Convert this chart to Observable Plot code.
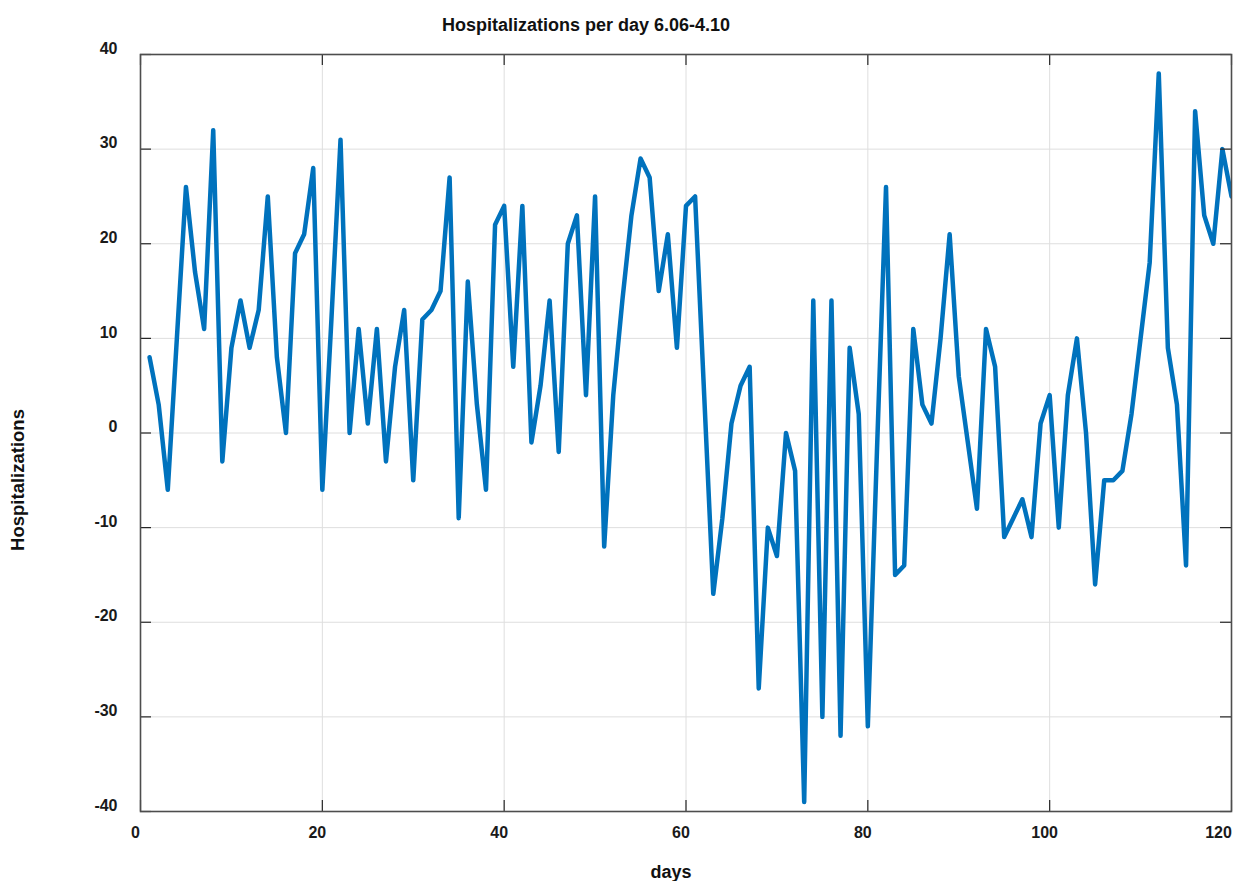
<!DOCTYPE html>
<html>
<head>
<meta charset="utf-8">
<script src="https://cdn.jsdelivr.net/npm/d3@7"></script>
<script src="https://cdn.jsdelivr.net/npm/@observablehq/plot@0.6"></script>
<style>
  body { margin: 0; background: #fff; }
  svg { display: block; }
</style>
</head>
<body>
<div id="chart"></div>
<script>
const title = "Hospitalizations per day 6.06-4.10";
const xLabel = "days";
const yLabel = "Hospitalizations";

const days = [
  1, 2, 3, 4, 5, 6, 7, 8, 9, 10, 11, 12, 13, 14, 15, 16, 17, 18, 19, 20,
  21, 22, 23, 24, 25, 26, 27, 28, 29, 30, 31, 32, 33, 34, 35, 36, 37, 38, 39, 40,
  41, 42, 43, 44, 45, 46, 47, 48, 49, 50, 51, 52, 53, 54, 55, 56, 57, 58, 59, 60,
  61, 62, 63, 64, 65, 66, 67, 68, 69, 70, 71, 72, 73, 74, 75, 76, 77, 78, 79, 80,
  81, 82, 83, 84, 85, 86, 87, 88, 89, 90, 91, 92, 93, 94, 95, 96, 97, 98, 99, 100,
  101, 102, 103, 104, 105, 106, 107, 108, 109, 110, 111, 112, 113, 114, 115, 116, 117, 118, 119, 120
];

const hospitalizations = [
  8, 3, -6, 10, 26, 17, 11, 32, -3, 9, 14, 9, 13, 25, 8, 0, 19, 21, 28, -6,
  12, 31, 0, 11, 1, 11, -3, 7, 13, -5, 12, 13, 15, 27, -9, 16, 3, -6, 22, 24,
  7, 24, -1, 5, 14, -2, 20, 23, 4, 25, -12, 4, 14, 23, 29, 27, 15, 21, 9, 24,
  25, 4, -17, -9, 1, 5, 7, -27, -10, -13, 0, -4, -39, 14, -30, 14, -32, 9, 2, -31,
  -2, 26, -15, -14, 11, 3, 1, 10, 21, 6, -1, -8, 11, 7, -11, -9, -7, -11, 1, 4,
  -10, 4, 10, 0, -16, -5, -5, -4, 2, 10, 18, 38, 9, 3, -14, 34, 23, 20, 30, 25
];

const xTicks = [0, 20, 40, 60, 80, 100, 120];
const xTicksInner = [0, 20, 40, 60, 80, 100];
const xTicksEdge = [120];
const yTicks = [-40, -30, -20, -10, 0, 10, 20, 30, 40];

const data = days.map((d, i) => ({day: d, value: hospitalizations[i]}));

const W = 1235, H = 881;
const mL = 140, mR = 4, mT = 54, mB = 70;
const plotW = W - mL - mR;
const plotH = H - mT - mB;
const tickLen = 11;
const font = "'Liberation Sans', Arial, Helvetica, sans-serif";
const fmt = d => String(d);

const chart = Plot.plot({
  width: W,
  height: H,
  marginLeft: mL,
  marginRight: mR,
  marginTop: mT,
  marginBottom: mB,
  style: {fontFamily: font, fontWeight: "bold", background: "#fff", color: "#1a1a1a"},
  x: {domain: [0, 120], ticks: xTicks},
  y: {domain: [-40, 40], ticks: yTicks},
  marks: [
    Plot.gridX(xTicks, {stroke: "#dedede", strokeOpacity: 1, strokeWidth: 1}),
    Plot.gridY(yTicks, {stroke: "#dedede", strokeOpacity: 1, strokeWidth: 1}),
    Plot.line(data, {x: "day", y: "value", stroke: "#0072BD", strokeWidth: 4.5, strokeLinejoin: "round", strokeLinecap: "round", clip: true}),
    Plot.tickX(xTicks, {x: d => d, insetTop: plotH - tickLen, stroke: "#262626", strokeWidth: 1.2}),
    Plot.tickX(xTicks, {x: d => d, insetBottom: plotH - tickLen, stroke: "#262626", strokeWidth: 1.2}),
    Plot.tickY(yTicks, {y: d => d, insetLeft: plotW - tickLen, stroke: "#262626", strokeWidth: 1.2}),
    Plot.tickY(yTicks, {y: d => d, insetRight: plotW - tickLen, stroke: "#262626", strokeWidth: 1.2}),
    Plot.frame({stroke: "#4d4d4d", strokeWidth: 1.6}),
    Plot.axisX(xTicksInner, {tickSize: 0, tickPadding: 15, fontSize: 16, dx: -5, label: null, tickFormat: fmt, fontWeight: "bold"}),
    Plot.axisX(xTicksEdge, {tickSize: 0, tickPadding: 15, fontSize: 16, dx: -13, label: null, tickFormat: fmt, fontWeight: "bold"}),
    Plot.axisY(yTicks, {tickSize: 0, tickPadding: 23, fontSize: 16, dy: -6, label: null, tickFormat: fmt, fontWeight: "bold"}),
    Plot.text([title], {text: d => d, frameAnchor: "top", lineAnchor: "middle", textAnchor: "middle", dx: -100, dy: -29, fontSize: 18, fontWeight: "bold", fill: "#111"}),
    Plot.text([xLabel], {text: d => d, frameAnchor: "bottom", lineAnchor: "middle", textAnchor: "middle", dx: -15, dy: 61, fontSize: 18, fontWeight: "bold", fill: "#111"}),
    Plot.text([yLabel], {text: d => d, frameAnchor: "left", lineAnchor: "middle", textAnchor: "middle", rotate: -90, dx: -122, dy: 47, fontSize: 18.5, fontWeight: "bold", fill: "#111"})
  ]
});

document.getElementById("chart").appendChild(chart);
</script>
</body>
</html>
